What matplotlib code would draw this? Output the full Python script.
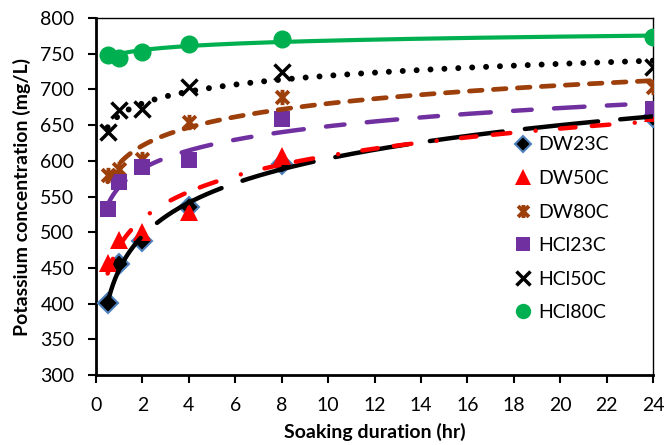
import numpy as np
import matplotlib
matplotlib.use("Agg")
import matplotlib.pyplot as plt
from matplotlib.path import Path

plt.rcParams['font.family'] = ['Lato', 'DejaVu Sans']
plt.rcParams['lines.scale_dashes'] = False

# soaking time (hr) and potassium concentration (mg/L)
hours = [0.5, 1, 2, 4, 8, 24]
dw23c = [401, 455, 488, 535, 595, 662]
dw50c = [457, 489, 500, 528, 607, 667]
dw80c = [580, 588, 603, 655, 690, 703]
hcl23c = [532, 570, 592, 601, 658, 673]
hcl50c = [640, 671, 673, 703, 724, 731]
hcl80c = [748, 744, 752, 763, 771, 773]

# x with a vertical bar through it
star = Path([(-1, -1), (1, 1), (-1, 1), (1, -1), (0, -1.2), (0, 1.2)],
            [Path.MOVETO, Path.LINETO, Path.MOVETO, Path.LINETO, Path.MOVETO, Path.LINETO])

series = [
    ("DW23C", dw23c, dict(marker='D', ms=10, mfc='black', mec='#4F81BD', mew=1.5),
     'black', 3.2, (0, (53, 16))),
    ("DW50C", dw50c, dict(marker='^', ms=13, mfc='#FF0000', mec='#FF0000', mew=0),
     '#FF0000', 3.2, (0, (11.2, 11.8, 12.7, 18.3, 0.01, 17.6))),
    ("DW80C", dw80c, dict(marker=star, ms=11, mfc='none', mec='#9C3F0B', mew=2.8),
     '#9C3F0B', 3.4, (0, (9.1, 8.2))),
    ("HCl23C", hcl23c, dict(marker='s', ms=12, mfc='#7030A0', mec='#7030A0', mew=0),
     '#7030A0', 3.2, (0, (22, 16.1, 13.4, 16.1))),
    ("HCl50C", hcl50c, dict(marker='x', ms=12, mfc='black', mec='black', mew=2.5),
     'black', 4.3, (0, (0.01, 10))),
    ("HCl80C", hcl80c, dict(marker='o', ms=13, mfc='#00B050', mec='#00B050', mew=0),
     '#00B050', 3.0, '-'),
]

fig = plt.figure(figsize=(6.65, 4.45), dpi=100)
ax = fig.add_axes([0.1444, 0.157, 0.8376, 0.8026])

x = np.array(hours, dtype=float)
xs = np.geomspace(0.5, 24, 300)
for name, vals, mk, col, lw, ls in series:
    ax.plot(hours, vals, linestyle='none', label=name, zorder=3, **mk)
    # logarithmic trend line
    a, b = np.polyfit(np.log(x), np.array(vals, dtype=float), 1)
    ax.plot(xs, a * np.log(xs) + b, color=col, lw=lw, linestyle=ls,
            dash_capstyle='round', solid_capstyle='round', zorder=4)

ax.set_xlim(0, 24)
ax.set_ylim(300, 800)
ax.set_xticks(np.arange(0, 25, 2))
ax.set_yticks(np.arange(300, 801, 50))
ax.tick_params(labelsize=14, direction='out', length=5.5, width=1.5)
ax.tick_params(axis='x', pad=10)
ax.tick_params(axis='y', pad=10)
for s in ['left', 'bottom']:
    ax.spines[s].set_linewidth(2)
for s in ['top', 'right']:
    ax.spines[s].set_linewidth(1)

ax.set_xlabel("Soaking duration (hr)", fontsize=14, fontweight='bold', labelpad=7)
ax.set_ylabel("Potassium concentration (mg/L)", fontsize=14, fontweight='bold', labelpad=7)

ax.legend(loc='upper left', bbox_to_anchor=(0.735, 0.69), frameon=False, fontsize=14,
          handlelength=1.0, handletextpad=0.3, labelspacing=0.85, borderaxespad=0,
          markerscale=0.85)

fig.savefig("out.png", dpi=100)
